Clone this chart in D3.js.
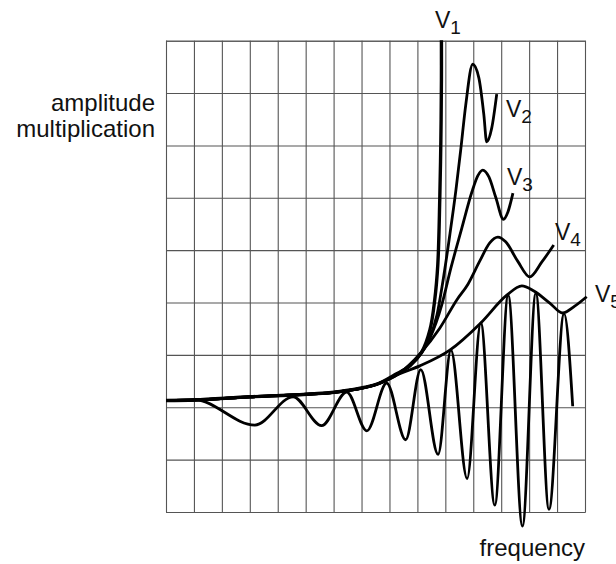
<!DOCTYPE html>
<html>
<head>
<meta charset="utf-8">
<script src="https://cdnjs.cloudflare.com/ajax/libs/d3/7.8.5/d3.min.js"></script>
<style>
	body { margin: 0; background: #fff; }
	svg { display: block; }
	text { font-family: "Liberation Sans", Arial, sans-serif; fill: #111; }
</style>
</head>
<body>
<script>
// grid size (in grid units)
var columns = 15;
var rows = 9;

// shared low-frequency part of all curves
var common = [[0, 2.13], [1.04, 2.14], [3.01, 2.20], [4.79, 2.24], [6.23, 2.30], [7.55, 2.44]];

// curves after they leave the common part
var v1 = [[8.19, 2.62], [8.73, 2.79], [9.16, 3.06], [9.45, 3.48], [9.62, 4.05], [9.73, 4.72], [9.80, 5.96], [9.84, 7.10], [9.86, 8.25], [9.86, 9.01]];
var v2 = [[8.19, 2.60], [8.80, 2.83], [9.34, 3.21], [9.70, 3.76], [9.95, 4.53], [10.16, 5.29], [10.38, 6.15], [10.55, 6.91], [10.73, 7.77], [10.98, 8.55], [11.20, 8.29], [11.38, 7.58], [11.48, 7.07], [11.66, 7.33], [11.84, 7.98]];
var v3 = [[8.19, 2.59], [8.84, 2.86], [9.45, 3.32], [9.87, 3.95], [10.20, 4.66], [10.59, 5.42], [10.95, 6.11], [11.16, 6.42], [11.34, 6.53], [11.56, 6.40], [11.81, 6.00], [12.08, 5.59], [12.24, 5.73], [12.42, 6.09]];
var v4 = [[8.37, 2.66], [9.09, 3.02], [9.80, 3.51], [10.41, 4.05], [10.81, 4.35], [11.23, 4.79], [11.59, 5.14], [11.88, 5.25], [12.16, 5.16], [12.59, 4.79], [13.02, 4.49], [13.45, 4.77], [13.88, 5.10]];
var v5 = [[8.37, 2.64], [9.09, 2.79], [10.16, 3.09], [11.27, 3.61], [12.20, 4.14], [12.74, 4.32], [13.17, 4.22], [13.74, 3.99], [14.20, 3.80], [14.63, 3.93], [15.06, 4.11]];

// the oscillating response curve (maxima and minima)
var wave = [[0, 2.13], [1.04, 2.14], [3.18, 1.66], [4.55, 2.20], [5.57, 1.65], [6.47, 2.29], [7.19, 1.55], [7.90, 2.46], [8.58, 1.38], [9.12, 2.72], [9.74, 1.10], [10.20, 3.09], [10.78, 0.64], [11.27, 3.61], [11.77, 0.13], [12.25, 4.14], [12.76, -0.27], [13.24, 4.18], [13.71, 0.05], [14.25, 3.79], [14.56, 2.02]];

var curveNames = ["1", "2", "3", "4", "5"];
var yTitle = ["amplitude", "multiplication"];
var xTitle = "frequency";

var width = 616;
var height = 564;
var gLeft = 166, gRight = 585, gTop = 40.7, gBottom = 512;

var svg = d3.select("body")
			.append("svg")
			.attr("width", width)
			.attr("height", height);

var x = d3.scaleLinear().domain([0, columns]).range([gLeft, gRight]);
var y = d3.scaleLinear().domain([0, rows]).range([gBottom, gTop]);

// grid drawn with axes and long ticks
svg.append("g")
	.attr("transform", "translate(0," + gBottom + ")")
	.call(d3.axisBottom(x).tickValues(d3.range(0, columns + 1)).tickSize(-(gBottom - gTop)).tickFormat(""));
svg.append("g")
	.attr("transform", "translate(" + gLeft + ",0)")
	.call(d3.axisLeft(y).tickValues(d3.range(0, rows + 1)).tickSize(-(gRight - gLeft)).tickFormat(""));
svg.selectAll(".tick line").attr("stroke", "#555").attr("stroke-width", 1.1);
svg.selectAll(".domain").attr("stroke", "#555");

// curves
var smooth = d3.line().x(function(d) { return x(d[0]); }).y(function(d) { return y(d[1]); }).curve(d3.curveMonotoneX);
var steep = d3.line().x(function(d) { return x(d[0]); }).y(function(d) { return y(d[1]); }).curve(d3.curveCatmullRom.alpha(0.5));

var curves = [v1, v2, v3, v4, v5];
for (var i = 0; i < curves.length; i++) {
	svg.append("path")
		.attr("d", (i == 0 ? steep : smooth)(common.concat(curves[i])))
		.attr("fill", "none")
		.attr("stroke", "#000")
		.attr("stroke-width", i == 0 ? 3.4 : 2.8)
		.attr("stroke-linejoin", "round");
}

svg.append("path")
	.attr("d", smooth(wave))
	.attr("fill", "none")
	.attr("stroke", "#000")
	.attr("stroke-width", 2.8);

// curve labels V1..V5
var labelPos = [[435, 28], [506, 117], [507, 185], [555, 240], [595, 302]];
for (var j = 0; j < curveNames.length; j++) {
	var t = svg.append("text")
				.attr("x", labelPos[j][0])
				.attr("y", labelPos[j][1])
				.attr("font-size", 23)
				.text("V");
	t.append("tspan")
		.attr("font-size", 19)
		.attr("dy", 6)
		.text(curveNames[j]);
}

// axis titles
svg.append("text")
	.attr("text-anchor", "end")
	.attr("font-size", 24)
	.selectAll("tspan")
	.data(yTitle)
	.enter()
	.append("tspan")
	.attr("x", 155)
	.attr("y", function(d, k) { return 111 + k * 26; })
	.text(function(d) { return d; });

svg.append("text")
	.attr("x", 585)
	.attr("y", 556)
	.attr("text-anchor", "end")
	.attr("font-size", 24)
	.text(xTitle);
</script>
</body>
</html>
